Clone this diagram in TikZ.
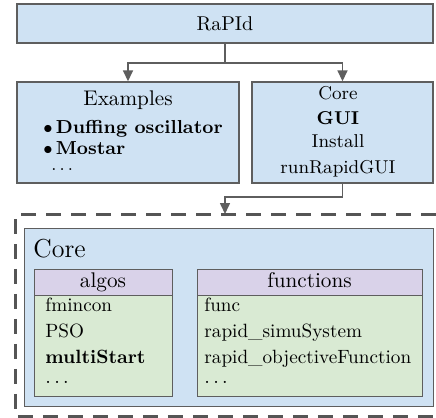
\documentclass[tikz,border=0pt]{standalone}
\usetikzlibrary{arrows.meta}
\definecolor{bluefill}{HTML}{CFE2F3}
\definecolor{purplefill}{HTML}{D9D2E9}
\definecolor{greenfill}{HTML}{D9EAD3}
\definecolor{bordergray}{HTML}{5E5E5E}
\definecolor{dashgray}{HTML}{555555}
\begin{document}
\begin{tikzpicture}[x=0.5pt,y=-0.5pt,
  box/.style={draw=bordergray, line width=0.7pt, fill=bluefill, inner sep=0pt},
  headbox/.style={draw=bordergray, line width=0.7pt, fill=purplefill, inner sep=0pt},
  bodybox/.style={draw=bordergray, line width=0.7pt, fill=greenfill, inner sep=0pt},
  txt/.style={inner sep=0pt, anchor=base, font=\fontsize{10}{12}\selectfont},
  coretxt/.style={inner sep=0pt, anchor=base, font=\fontsize{9.3}{11}\selectfont},
  item/.style={inner sep=0pt, anchor=base west, font=\fontsize{9.6}{11}\selectfont},
  bullet/.style={inner sep=0pt, anchor=base west, font=\fontsize{9.4}{11}\selectfont},
  conn/.style={draw=bordergray, line width=0.8pt, -{Triangle[length=5.5pt,width=5pt]}}]
\useasboundingbox (0,0) rectangle (436,418);
\fill[white] (0,0) rectangle (436,418);
% top box
\node[box, minimum width=208pt, minimum height=19.5pt] (rapid) at (225,23.5) {RaPId};
% second row
\node[box, minimum width=111pt, minimum height=50.5pt] (examples) at (128,132.5) {};
\node[box, minimum width=90.5pt, minimum height=50.5pt] (coreS) at (342.5,132.5) {};
\node[txt, font=\fontsize{10.6}{12}\selectfont] (exTitle) at (128,105) {Examples};
\node[bullet] (b1) at (43,133) {$\bullet$\,\textbf{Duffing oscillator}};
\node[bullet] (b2) at (43,154) {$\bullet$\,\textbf{Mostar}};
\node[bullet] (b3) at (51,170) {$\ldots$};
\node[coretxt] (c1) at (338,99) {Core};
\node[coretxt] (c2) at (338,124) {\textbf{GUI}};
\node[coretxt] (c3) at (338,148) {Install};
\node[coretxt] (c4) at (338,173) {runRapidGUI};
% connectors
\coordinate (split) at (225,63);
\coordinate (split2) at (225,197);
\coordinate (dashtop) at (225,214);
\draw[conn] (rapid.south) -- (split) -| (examples.north);
\draw[conn] (split) -| (coreS.north);
\draw[conn] (coreS.south) |- (split2) -- (dashtop);
% dashed frame (right side lies outside the picture)
\draw[dashgray, line width=1.5pt, dash pattern=on 7.5pt off 5pt] (436,214) -- (16,214) -- (16,417) -- (436,417);
% inner core
\node[box, minimum width=204.5pt, minimum height=89pt, anchor=north west] (coreframe) at (24,228) {};
\node[inner sep=0pt, anchor=base west, font=\fontsize{13}{15}\selectfont] (coreLabel) at (33,257) {Core};
% algos
\node[headbox, minimum width=69pt, minimum height=13pt, anchor=north west] (algosH) at (34,269) {};
\node[bodybox, minimum width=69pt, minimum height=50.5pt, anchor=north west] (algosB) at (34,295) {};
\node[txt, font=\fontsize{10.6}{12}\selectfont] (algosT) at (103,287) {algos};
\node[item] (a1) at (45,312) {fmincon};
\node[item] (a2) at (45,338) {PSO};
\node[item] (a3) at (45,364) {\textbf{multiStart}};
\node[item] (a4) at (45,384) {$\ldots$};
% functions
\node[headbox, minimum width=112.5pt, minimum height=13pt, anchor=north west] (funH) at (197,269) {};
\node[bodybox, minimum width=112.5pt, minimum height=50.5pt, anchor=north west] (funB) at (197,295) {};
\node[txt, font=\fontsize{10.6}{12}\selectfont] (funT) at (309.5,287) {functions};
\node[item] (f1) at (204,312) {func};
\node[item] (f2) at (204,338) {rapid\_simuSystem};
\node[item] (f3) at (204,364) {rapid\_objectiveFunction};
\node[item] (f4) at (204,384) {$\ldots$};
\end{tikzpicture}
\end{document}
